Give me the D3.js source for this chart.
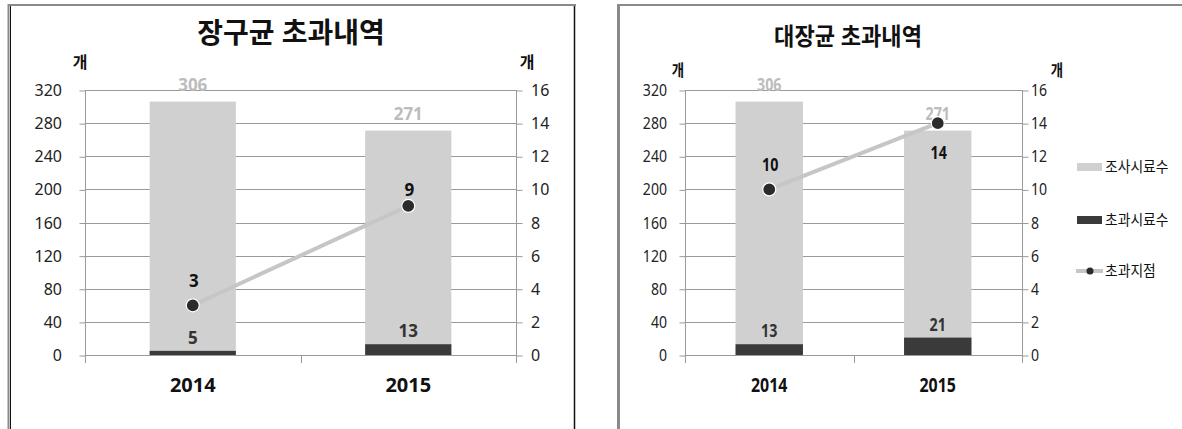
<!DOCTYPE html>
<html><head><meta charset="utf-8">
<script src="https://cdn.jsdelivr.net/npm/d3@7"></script>
<style>
html,body{margin:0;padding:0;background:#fff;}
svg{display:block;font-family:"Noto Sans","Noto Sans CJK KR",sans-serif;}
</style></head>
<body><svg id="c" width="1182" height="429"></svg>
<script>
const years = ["2014", "2015"];
const titles = ["장구균 초과내역", "대장균 초과내역"];
const unitLabel = "개";
const leftTicks = [0, 40, 80, 120, 160, 200, 240, 280, 320];
const rightTicks = [0, 2, 4, 6, 8, 10, 12, 14, 16];
const enteroSamples = [306, 271];
const enteroExceedSamples = [5, 13];
const enteroExceedSites = [3, 9];
const ecoliSamples = [306, 271];
const ecoliExceedSamples = [13, 21];
const ecoliExceedSites = [10, 14];
const legendLabels = ["조사시료수", "초과시료수", "초과지점"];

const svg = d3.select("#c");
const C = {light:"#d0d0d0", dark:"#3a3a3a", line:"#c6c6c6", marker:"#2b2b2b", grid:"#9a9a9a", text:"#222", valGray:"#bcbcbc"};

function txt(g, s, x, y, o) {
  return g.append("text").text(s)
    .attr("transform", `translate(${x},${y}) scale(${o.sx||1},1)`)
    .attr("text-anchor", o.anchor||"middle")
    .attr("font-size", o.size||14)
    .attr("font-weight", o.weight||"normal")
    .attr("fill", o.fill||C.text);
}

function drawChart(cfg) {
  const g = svg.append("g");
  const sx = cfg.sx;
  const x = d3.scaleBand().domain(years).range([cfg.x0, cfg.x1]).padding(0);
  const yL = d3.scaleLinear().domain([0, 320]).range([355, 90]);
  const yR = d3.scaleLinear().domain([0, 16]).range([355, 90]);
  const bw = x.bandwidth() * 0.4;

  g.append("g").selectAll("line").data(leftTicks).join("line")
    .attr("x1", cfg.x0).attr("x2", cfg.x1)
    .attr("y1", d => Math.round(yL(d)) + 0.5).attr("y2", d => Math.round(yL(d)) + 0.5)
    .attr("stroke", C.grid).attr("stroke-width", 1);

  const axL = g.append("g").attr("transform", `translate(${cfg.x0 + 0.5},0.5)`)
    .call(d3.axisLeft(yL).tickValues(leftTicks).tickSize(6).tickSizeOuter(0).tickFormat(""));
  const axR = g.append("g").attr("transform", `translate(${cfg.x1 + 0.5},0.5)`)
    .call(d3.axisRight(yR).tickValues(rightTicks).tickSize(6).tickSizeOuter(0).tickFormat(""));
  [axL, axR].forEach(a => { a.selectAll("line,path").attr("stroke", C.grid); a.select(".domain").remove(); });

  const bounds = years.map(d => x(d)).concat([x(years[years.length-1]) + x.bandwidth()]);
  g.append("g").selectAll("line").data(bounds).join("line")
    .attr("x1", d => Math.round(d) + 0.5).attr("x2", d => Math.round(d) + 0.5)
    .attr("y1", (d, i) => (i === 0 || i === bounds.length - 1) ? yL(320) : yL(0))
    .attr("y2", yL(0) + 8)
    .attr("stroke", C.grid);

  leftTicks.forEach(t => txt(g, t, cfg.lblL, yL(t) + 6, {anchor:"end", size:16, sx:cfg.tsx}));
  rightTicks.forEach(t => txt(g, t, cfg.lblR, yR(t) + 6, {anchor:"start", size:16, sx:cfg.tsx}));

  g.append("g").selectAll("rect").data(cfg.samples).join("rect")
    .attr("x", (d, i) => x(years[i]) + (x.bandwidth() - bw) / 2)
    .attr("width", bw).attr("y", d => yL(d)).attr("height", d => yL(0) - yL(d))
    .attr("fill", C.light);
  g.append("g").selectAll("rect").data(cfg.exceed).join("rect")
    .attr("x", (d, i) => x(years[i]) + (x.bandwidth() - bw) / 2)
    .attr("width", bw).attr("y", d => yL(d)).attr("height", d => yL(0) - yL(d))
    .attr("fill", C.dark);

  cfg.samples.forEach((d, i) => txt(g, d, x(years[i]) + x.bandwidth()/2, yL(d) - 11, {size:17, weight:"bold", fill:C.valGray, sx}));
  cfg.exceed.forEach((d, i) => txt(g, d, x(years[i]) + x.bandwidth()/2, yL(d) - 7, {size:17, weight:"bold", fill:"#333", sx}));

  const line = d3.line().x((d, i) => x(years[i]) + x.bandwidth()/2).y(d => yR(d));
  g.append("path").datum(cfg.sites).attr("d", line)
    .attr("fill", "none").attr("stroke", C.line).attr("stroke-width", 4);
  g.append("g").selectAll("circle").data(cfg.sites).join("circle")
    .attr("cx", (d, i) => x(years[i]) + x.bandwidth()/2).attr("cy", d => yR(d))
    .attr("r", 6.5).attr("fill", C.marker).attr("stroke", "#fff").attr("stroke-width", 1.2);
  cfg.sites.forEach((d, i) => txt(g, d, x(years[i]) + x.bandwidth()/2 + 1, yR(d) + cfg.siteDy[i], {size:17, weight:"bold", fill:"#111", sx}));

  years.forEach(yv => txt(g, yv, x(yv) + x.bandwidth()/2, 392, {size:cfg.xSize, weight:"bold", fill:"#111", sx}));

  txt(g, cfg.title, cfg.titleX, cfg.titleY, {size:cfg.titleSize, weight:"bold", fill:"#111", sx:cfg.titleSx});
  txt(g, unitLabel, cfg.unitL, cfg.unitY, {size:16, weight:"bold", fill:"#111", sx});
  txt(g, unitLabel, cfg.unitR, cfg.unitY, {size:16, weight:"bold", fill:"#111", sx});
  return g;
}

const fr = svg.append("g");
fr.append("line").attr("x1", 8).attr("x2", 576).attr("y1", 5).attr("y2", 5).attr("stroke", "#8a8a8a").attr("stroke-width", 2);
fr.append("line").attr("x1", 8.5).attr("x2", 8.5).attr("y1", 4).attr("y2", 429).attr("stroke", "#8a8a8a").attr("stroke-width", 2);
fr.append("line").attr("x1", 10.5).attr("x2", 10.5).attr("y1", 6).attr("y2", 429).attr("stroke", "#111").attr("stroke-width", 1);
fr.append("line").attr("x1", 574.5).attr("x2", 574.5).attr("y1", 6).attr("y2", 429).attr("stroke", "#111").attr("stroke-width", 1.5);
fr.append("line").attr("x1", 617).attr("x2", 1182).attr("y1", 5).attr("y2", 5).attr("stroke", "#8a8a8a").attr("stroke-width", 2);
fr.append("line").attr("x1", 618.5).attr("x2", 618.5).attr("y1", 4).attr("y2", 429).attr("stroke", "#8a8a8a").attr("stroke-width", 3);

drawChart({x0:85, x1:516, lblL:62, lblR:531, sx:1, tsx:1,
  samples:enteroSamples, exceed:enteroExceedSamples, sites:enteroExceedSites, siteDy:[-18,-10],
  title:titles[0], titleX:291, titleY:43, titleSize:28, titleSx:1, xSize:20, unitL:80, unitR:527, unitY:68});

drawChart({x0:685, x1:1022, lblL:667, lblR:1031, sx:0.84, tsx:0.88,
  samples:ecoliSamples, exceed:ecoliExceedSamples, sites:ecoliExceedSites, siteDy:[-18,36],
  title:titles[1], titleX:848, titleY:45, titleSize:24, titleSx:0.92, xSize:19, unitL:678, unitR:1057, unitY:76});

const lg = svg.append("g");
const legendY = [167, 220, 271];
lg.append("rect").attr("x", 1077).attr("y", legendY[0] - 4).attr("width", 25).attr("height", 8).attr("fill", C.light);
lg.append("rect").attr("x", 1077).attr("y", legendY[1] - 4).attr("width", 25).attr("height", 8).attr("fill", C.dark);
lg.append("line").attr("x1", 1076).attr("x2", 1103).attr("y1", legendY[2]).attr("y2", legendY[2]).attr("stroke", C.line).attr("stroke-width", 4);
lg.append("circle").attr("cx", 1090).attr("cy", legendY[2]).attr("r", 3.5).attr("fill", C.marker);
legendLabels.forEach((l, i) => txt(lg, l, 1105, legendY[i] + 5, {anchor:"start", size:15, fill:"#111", sx:0.92}));
</script></body></html>
